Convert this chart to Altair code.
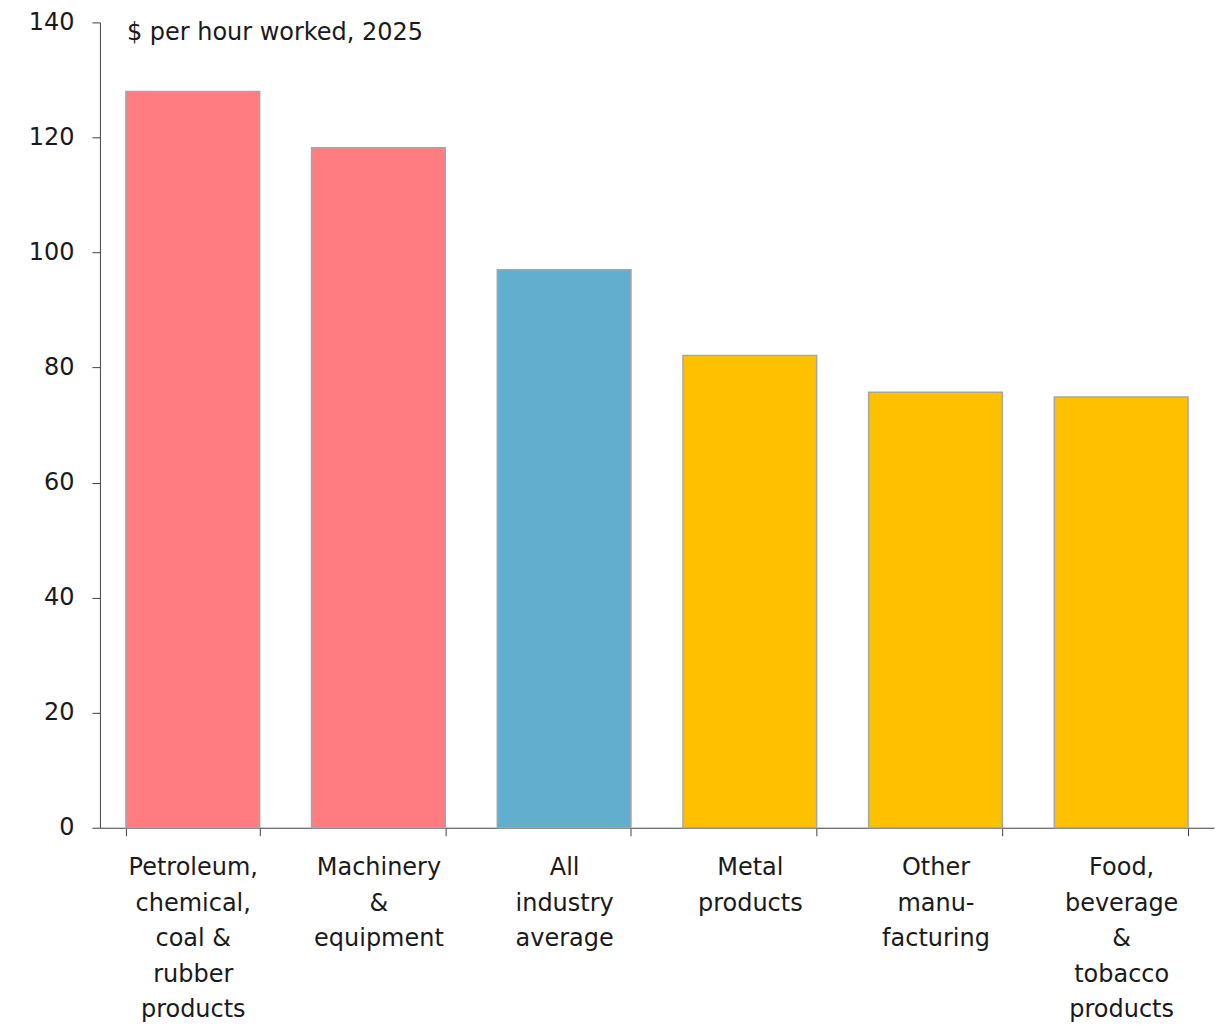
import altair as alt
import pandas as pd

categories = [
    "Petroleum,\nchemical,\ncoal &\nrubber\nproducts",
    "Machinery\n&\nequipment",
    "All\nindustry\naverage",
    "Metal\nproducts",
    "Other\nmanu-\nfacturing",
    "Food,\nbeverage\n&\ntobacco\nproducts",
]
values = [128.0, 118.2, 97.0, 82.1, 75.7, 74.9]
groups = ["high", "high", "avg", "low", "low", "low"]
group_names = ["high", "avg", "low"]
group_colors = ["#FF7C80", "#62AECE", "#FFC000"]

df = pd.DataFrame({"cat": categories, "value": values, "group": groups})

FONT = "DejaVu Sans"

bars = alt.Chart(df).mark_bar(stroke="#A6A6A6", strokeWidth=1.5).encode(
    x=alt.X(
        "cat:N",
        sort=categories,
        title=None,
        scale=alt.Scale(paddingInner=0.28, paddingOuter=0.14),
        axis=alt.Axis(
            labelAngle=0,
            labelExpr="split(datum.label, '\\n')",
            labelFontSize=24,
            labelLineHeight=35.5,
            labelPadding=20,
            labelColor="#1a1a1a",
            labelFont=FONT,
            tickBand="extent",
            tickSize=8,
            tickColor="#404040",
            domainColor="#404040",
            labelBaseline="top",
        ),
    ),
    y=alt.Y(
        "value:Q",
        title=None,
        scale=alt.Scale(domain=[0, 140]),
        axis=alt.Axis(
            values=[0, 20, 40, 60, 80, 100, 120, 140],
            grid=False,
            labelFontSize=24,
            labelPadding=18,
            labelColor="#1a1a1a",
            labelFont=FONT,
            tickSize=8,
            tickColor="#404040",
            domainColor="#404040",
        ),
    ),
    color=alt.Color(
        "group:N",
        scale=alt.Scale(domain=group_names, range=group_colors),
        legend=None,
    ),
)

note = alt.Chart(pd.DataFrame({"t": ["$ per hour worked, 2025"]})).mark_text(
    align="left", baseline="middle", fontSize=24, font=FONT, color="#1a1a1a"
).encode(text="t:N", x=alt.value(27), y=alt.value(11))

chart = (
    alt.layer(bars, note)
    .properties(
        width=1115,
        height=806,
        padding={"left": 92, "top": 14, "right": 10, "bottom": 199},
        autosize=alt.AutoSizeParams(type="none"),
    )
    .configure_view(stroke=None)
)

chart.save("out.html", embed_options={"renderer": "svg", "actions": False})
